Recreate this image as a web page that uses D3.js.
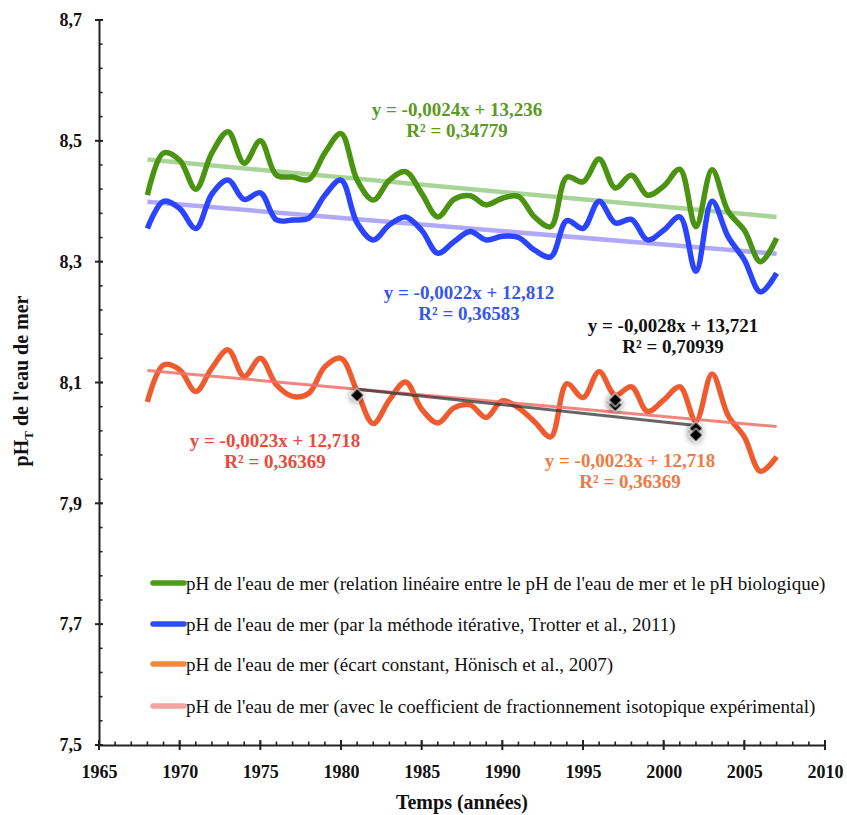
<!DOCTYPE html>
<html>
<head>
<meta charset="utf-8">
<script src="https://cdn.jsdelivr.net/npm/d3@7"></script>
<style>
  html, body { margin: 0; padding: 0; background: #fff; }
  svg { display: block; }
  text { font-family: "Liberation Serif", "Times New Roman", serif; }
</style>
</head>
<body>
<svg id="chart" width="847" height="815"></svg>
<script>
// ---------------- DATA ----------------
const years = [1968,1969,1970,1971,1972,1973,1974,1975,1976,1977,
               1978,1979,1980,1981,1982,1983,1984,1985,1986,1987,
               1988,1989,1990,1991,1992,1993,1994,1995,1996,1997,
               1998,1999,2000,2001,2002,2003,2004,2005,2006,2007];

// pH (relation linéaire entre pH eau de mer et pH biologique) — green
const phLinear = [8.410,8.480,8.468,8.420,8.480,8.515,8.463,8.500,8.443,8.440,
                  8.436,8.480,8.512,8.435,8.402,8.435,8.449,8.413,8.374,8.403,
                  8.409,8.394,8.405,8.408,8.374,8.358,8.440,8.432,8.470,8.422,
                  8.443,8.410,8.425,8.453,8.358,8.452,8.383,8.352,8.300,8.339];

// pH (méthode itérative, Trotter et al., 2011) — blue
const phIterative = [8.355,8.400,8.388,8.355,8.412,8.435,8.403,8.414,8.369,8.369,
                     8.372,8.410,8.435,8.364,8.336,8.361,8.374,8.352,8.314,8.333,
                     8.350,8.336,8.342,8.340,8.319,8.308,8.368,8.355,8.400,8.364,
                     8.370,8.336,8.352,8.374,8.284,8.400,8.341,8.303,8.250,8.281];

// pH (écart constant, Hönisch et al., 2007) — orange
const phHonisch = [8.068,8.129,8.121,8.085,8.124,8.154,8.110,8.140,8.096,8.077,
                   8.082,8.126,8.140,8.085,8.032,8.071,8.101,8.056,8.033,8.058,
                   8.063,8.042,8.070,8.058,8.035,8.010,8.098,8.075,8.118,8.079,
                   8.093,8.052,8.071,8.093,8.036,8.114,8.045,8.010,7.953,7.977];

// pH (coefficient de fractionnement isotopique expérimental) — pink (overlaps orange)
const phExperimental = [8.068,8.129,8.121,8.085,8.124,8.154,8.110,8.140,8.096,8.077,
                        8.082,8.126,8.140,8.085,8.032,8.071,8.101,8.056,8.033,8.058,
                        8.063,8.042,8.070,8.058,8.035,8.010,8.098,8.075,8.118,8.079,
                        8.093,8.052,8.071,8.093,8.036,8.114,8.045,8.010,7.953,7.977];

// Trend lines (start / end values)
const trendYears = [1968, 2007];
const trendLinear = [8.469, 8.374];
const trendIterative = [8.399, 8.313];
const trendHonisch = [8.120, 8.027];
const blackTrendYears = [1981, 2002];
const blackTrendValues = [8.089, 8.029];

// Diamond markers
const diamondYears = [1981, 1997, 1997, 2002, 2002];
const diamondValues = [8.079, 8.063, 8.071, 8.024, 8.013];

// Axes
const yTicks = [7.5, 7.7, 7.9, 8.1, 8.3, 8.5, 8.7];
const xTicks = [1965,1970,1975,1980,1985,1990,1995,2000,2005,2010];

// Legend
const legendLabels = [
  "pH de l'eau de mer (relation linéaire entre le pH de l'eau de mer et le pH biologique)",
  "pH de l'eau de mer (par la méthode itérative, Trotter et al., 2011)",
  "pH de l'eau de mer (écart constant, Hönisch et al., 2007)",
  "pH de l'eau de mer (avec le coefficient de fractionnement isotopique expérimental)"
];
const legendColors = ["#4e9a1a", "#2b4cff", "#f0883c", "#f4a3a3"];

// Equation annotations
const eqLabels = [
  {l1: "y = -0,0024x + 13,236", l2: "R² = 0,34779", color: "#5a9a22", cx: 457, cy: 110},
  {l1: "y = -0,0022x + 12,812", l2: "R² = 0,36583", color: "#3656f0", cx: 469, cy: 293},
  {l1: "y = -0,0028x + 13,721", l2: "R² = 0,70939", color: "#111111", cx: 673, cy: 326},
  {l1: "y = -0,0023x + 12,718", l2: "R² = 0,36369", color: "#ea4a3c", cx: 275, cy: 441},
  {l1: "y = -0,0023x + 12,718", l2: "R² = 0,36369", color: "#f07a44", cx: 630, cy: 461}
];

// ---------------- CHART ----------------
const svg = d3.select("#chart");
const mLeft = 99, mRight = 825, mTop = 20, mBottom = 745;

const x = d3.scaleLinear().domain([1965, 2010]).range([mLeft, mRight]);
const y = d3.scaleLinear().domain([7.5, 8.7]).range([mBottom, mTop]);

const defs = svg.append("defs");
const f = defs.append("filter").attr("id", "shadow").attr("x", "-150%").attr("y", "-150%").attr("width", "400%").attr("height", "400%");
f.append("feGaussianBlur").attr("in", "SourceAlpha").attr("stdDeviation", 3).attr("result", "b");
f.append("feOffset").attr("in", "b").attr("dx", 0).attr("dy", 1).attr("result", "o");
f.append("feComponentTransfer").attr("in", "o").attr("result", "o2")
  .append("feFuncA").attr("type", "linear").attr("slope", 0.6);
const fm = f.append("feMerge");
fm.append("feMergeNode").attr("in", "o2");
fm.append("feMergeNode").attr("in", "SourceGraphic");

const line = d3.line()
  .x((d, i) => x(years[i]))
  .y(d => y(d))
  .curve(d3.curveCatmullRom.alpha(0.5));

const straight = (xs, vs) => d3.line().x((d, i) => x(xs[i])).y(d => y(d))(vs);

const g = svg.append("g");

// Trend lines (under the data)
g.append("path").attr("d", straight(trendYears, trendLinear))
  .attr("fill", "none").attr("stroke", "#9fd08c").attr("stroke-width", 4.5).attr("stroke-opacity", 0.9);
g.append("path").attr("d", straight(trendYears, trendIterative))
  .attr("fill", "none").attr("stroke", "#a79ff7").attr("stroke-width", 4.5).attr("stroke-opacity", 0.9);

// Data series
g.append("path").attr("d", line(phLinear))
  .attr("fill", "none").attr("stroke", "#4a9412").attr("stroke-width", 5.5).attr("stroke-linejoin", "round");
g.append("path").attr("d", line(phIterative))
  .attr("fill", "none").attr("stroke", "#2a44ff").attr("stroke-width", 5.5).attr("stroke-linejoin", "round");
g.append("path").attr("d", line(phExperimental))
  .attr("fill", "none").attr("stroke", "#f4a3a3").attr("stroke-width", 5.5);
g.append("path").attr("d", line(phHonisch))
  .attr("fill", "none").attr("stroke", "#ee5b2c").attr("stroke-width", 5).attr("stroke-linejoin", "round");

// Orange/pink trend & black trend
g.append("path").attr("d", straight(trendYears, trendHonisch))
  .attr("fill", "none").attr("stroke", "#f07068").attr("stroke-width", 3).attr("stroke-opacity", 0.85);
g.append("path").attr("d", straight(blackTrendYears, blackTrendValues))
  .attr("fill", "none").attr("stroke", "#333").attr("stroke-width", 3).attr("stroke-opacity", 0.75);

// Diamonds
const sq = d3.symbol().type(d3.symbolSquare).size(95);
g.selectAll(".dia").data(diamondValues).join("path")
  .attr("class", "dia")
  .attr("d", sq)
  .attr("transform", (d, i) => `translate(${x(diamondYears[i])},${y(d)}) rotate(45)`)
  .attr("fill", "#000")
  .attr("stroke", "#fff").attr("stroke-width", 0.8)
  .attr("filter", "url(#shadow)");

// Equation labels
eqLabels.forEach(e => {
  const t = svg.append("text").attr("fill", e.color).attr("font-weight", "bold")
    .attr("font-size", 19).attr("text-anchor", "middle");
  t.append("tspan").attr("x", e.cx).attr("y", e.cy + 6).text(e.l1);
  t.append("tspan").attr("x", e.cx).attr("y", e.cy + 27).text(e.l2);
});

// Axes
const fmt = v => d3.format(".1f")(v).replace(".", ",");
const yAxis = d3.axisLeft(y).tickValues(yTicks).tickFormat(fmt).tickSize(0).tickPadding(17);
const ya = svg.append("g").attr("transform", `translate(${mLeft},0)`).call(yAxis);
ya.select(".domain").attr("stroke", "#222").attr("stroke-width", 2);
ya.selectAll("text").attr("font-size", 18).attr("font-weight", "bold").attr("fill", "#111")
  .attr("font-family", "Liberation Serif, serif");

const yMinor = d3.range(0, 31).map(i => 7.5 + i * 0.04);
svg.append("g").selectAll("line").data(yMinor).join("line")
  .attr("x1", mLeft).attr("x2", mLeft + 3.5)
  .attr("y1", d => y(d)).attr("y2", d => y(d)).attr("stroke", "#222").attr("stroke-width", 1.6);
svg.append("g").selectAll("line").data(yTicks).join("line")
  .attr("x1", mLeft - 4).attr("x2", mLeft + 4)
  .attr("y1", d => y(d)).attr("y2", d => y(d)).attr("stroke", "#222").attr("stroke-width", 2);

const xAxis = d3.axisBottom(x).tickValues(xTicks).tickFormat(d3.format("d")).tickSize(0).tickPadding(20);
const xa = svg.append("g").attr("transform", `translate(0,${mBottom})`).call(xAxis);
xa.select(".domain").attr("stroke", "#222").attr("stroke-width", 2);
xa.selectAll("text").attr("font-size", 18).attr("font-weight", "bold").attr("fill", "#111")
  .attr("font-family", "Liberation Serif, serif");

const xMinor = d3.range(1965, 2011);
svg.append("g").selectAll("line").data(xMinor).join("line")
  .attr("x1", d => x(d)).attr("x2", d => x(d))
  .attr("y1", mBottom - 3.5).attr("y2", mBottom).attr("stroke", "#222").attr("stroke-width", 1.6);
svg.append("g").selectAll("line").data(xTicks).join("line")
  .attr("x1", d => x(d)).attr("x2", d => x(d))
  .attr("y1", mBottom - 5).attr("y2", mBottom + 5).attr("stroke", "#222").attr("stroke-width", 2);

// Axis titles
svg.append("text").attr("x", (mLeft + mRight) / 2).attr("y", 809)
  .attr("text-anchor", "middle").attr("font-size", 20).attr("font-weight", "bold").attr("fill", "#111")
  .text("Temps (années)");

const yt = svg.append("text").attr("transform", "translate(28,381) rotate(-90)")
  .attr("text-anchor", "middle").attr("font-size", 20).attr("font-weight", "bold").attr("fill", "#111");
yt.append("tspan").text("pH");
yt.append("tspan").attr("font-size", 13).attr("dy", 5).text("T");
yt.append("tspan").attr("dy", -5).text(" de l'eau de mer");

// Legend
const legRows = [583, 624, 664, 706];
const lg = svg.append("g");
legendLabels.forEach((lab, i) => {
  lg.append("line").attr("x1", 153).attr("x2", 184).attr("y1", legRows[i]).attr("y2", legRows[i])
    .attr("stroke", legendColors[i]).attr("stroke-width", 5.5).attr("stroke-linecap", "round");
  lg.append("text").attr("x", 186).attr("y", legRows[i]).attr("dy", "0.35em")
    .attr("font-size", 19).attr("fill", "#111").text(lab);
});
</script>
</body>
</html>
